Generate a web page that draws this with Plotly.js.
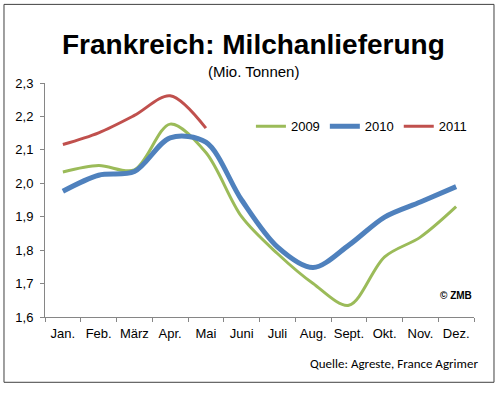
<!DOCTYPE html>
<html>
<head>
<meta charset="utf-8">
<script src="https://cdn.plot.ly/plotly-3.0.1.min.js"></script>
<style>html,body{margin:0;padding:0;background:#fff;}#chart{width:499px;height:398px;}</style>
</head>
<body>
<div id="chart"></div>
<script>
const months = ['Jan.','Feb.','März','Apr.','Mai','Juni','Juli','Aug.','Sept.','Okt.','Nov.','Dez.'];
const v2009 = [2.034, 2.053, 2.040, 2.177, 2.092, 1.900, 1.790, 1.700, 1.635, 1.780, 1.839, 1.930];
const v2010 = [1.976, 2.024, 2.035, 2.136, 2.123, 1.950, 1.810, 1.748, 1.815, 1.899, 1.944, 1.990];
const v2011 = [2.116, 2.151, 2.203, 2.262, 2.165];
const yTicks = [1.6, 1.7, 1.8, 1.9, 2.0, 2.1, 2.2, 2.3];
const yTickText = ['1,6','1,7','1,8','1,9','2,0','2,1','2,2','2,3'];

const font = 'Liberation Sans, Arial, sans-serif';
const traces = [
  {x: months, y: v2009, name: '2009', type: 'scatter', mode: 'lines',
   line: {color: '#9BBB59', width: 3, shape: 'spline', smoothing: 0.9}},
  {x: months.slice(0, v2010.length), y: v2010, name: '2010', type: 'scatter', mode: 'lines',
   line: {color: '#4F81BD', width: 5, shape: 'spline', smoothing: 0.9}},
  {x: months.slice(0, v2011.length), y: v2011, name: '2011', type: 'scatter', mode: 'lines',
   line: {color: '#C0504D', width: 3, shape: 'spline', smoothing: 0.9}}
];

const layout = {
  width: 499, height: 398,
  margin: {l: 45, r: 25, t: 83, b: 81},
  paper_bgcolor: '#fff', plot_bgcolor: '#fff',
  font: {family: font, size: 13, color: '#000'},
  showlegend: true,
  legend: {orientation: 'h', x: 0.48, y: 0.815, xanchor: 'left', yanchor: 'middle',
           font: {family: font, size: 13, color: '#000'}, itemwidth: 30,
           bgcolor: 'rgba(0,0,0,0)', tracegroupgap: 0},
  xaxis: {type: 'category', categoryorder: 'array', categoryarray: months,
          range: [-0.5, 11.5], showgrid: false, zeroline: false,
          showline: true, linecolor: '#868686', linewidth: 1,
          ticks: 'outside', ticklen: 4, tickcolor: '#868686', tickson: 'boundaries',
          tickangle: 0, ticklabelstandoff: 4,
          tickfont: {family: font, size: 13, color: '#000'}, fixedrange: true},
  yaxis: {range: [1.6, 2.3], tickvals: yTicks, ticktext: yTickText,
          showgrid: false, zeroline: false, showline: true, linecolor: '#868686', linewidth: 1,
          ticks: 'outside', ticklen: 4, tickcolor: '#868686', ticklabelstandoff: 4,
          tickfont: {family: font, size: 13, color: '#000'}, fixedrange: true},
  annotations: [
    {text: '<b>Frankreich: Milchanlieferung</b>', xref: 'paper', yref: 'paper',
     x: 0.487, y: 1.165, xanchor: 'center', yanchor: 'middle', showarrow: false,
     font: {family: font, size: 28, color: '#000'}},
    {text: '(Mio. Tonnen)', xref: 'paper', yref: 'paper',
     x: 0.487, y: 1.05, xanchor: 'center', yanchor: 'middle', showarrow: false,
     font: {family: font, size: 15, color: '#000'}},
    {text: '<b>© ZMB</b>', xref: 'paper', yref: 'paper',
     x: 1.0, y: 0.09, xanchor: 'right', yanchor: 'middle', showarrow: false,
     font: {family: font, size: 10, color: '#000'}},
    {text: 'Quelle: Agreste, France Agrimer', xref: 'paper', yref: 'paper',
     x: 1.015, y: -0.2, xanchor: 'right', yanchor: 'middle', showarrow: false,
     font: {family: 'Carlito, Open Sans, sans-serif', size: 13, color: '#000'}}
  ],
  shapes: [
    {type: 'rect', xref: 'paper', yref: 'paper',
     x0: -0.0956, x1: 1.0466, y0: -0.279, y1: 1.336,
     line: {color: '#404040', width: 1}, fillcolor: 'rgba(0,0,0,0)', layer: 'below'}
  ]
};

Plotly.newPlot('chart', traces, layout, {staticPlot: true, displayModeBar: false});
</script>
</body>
</html>
